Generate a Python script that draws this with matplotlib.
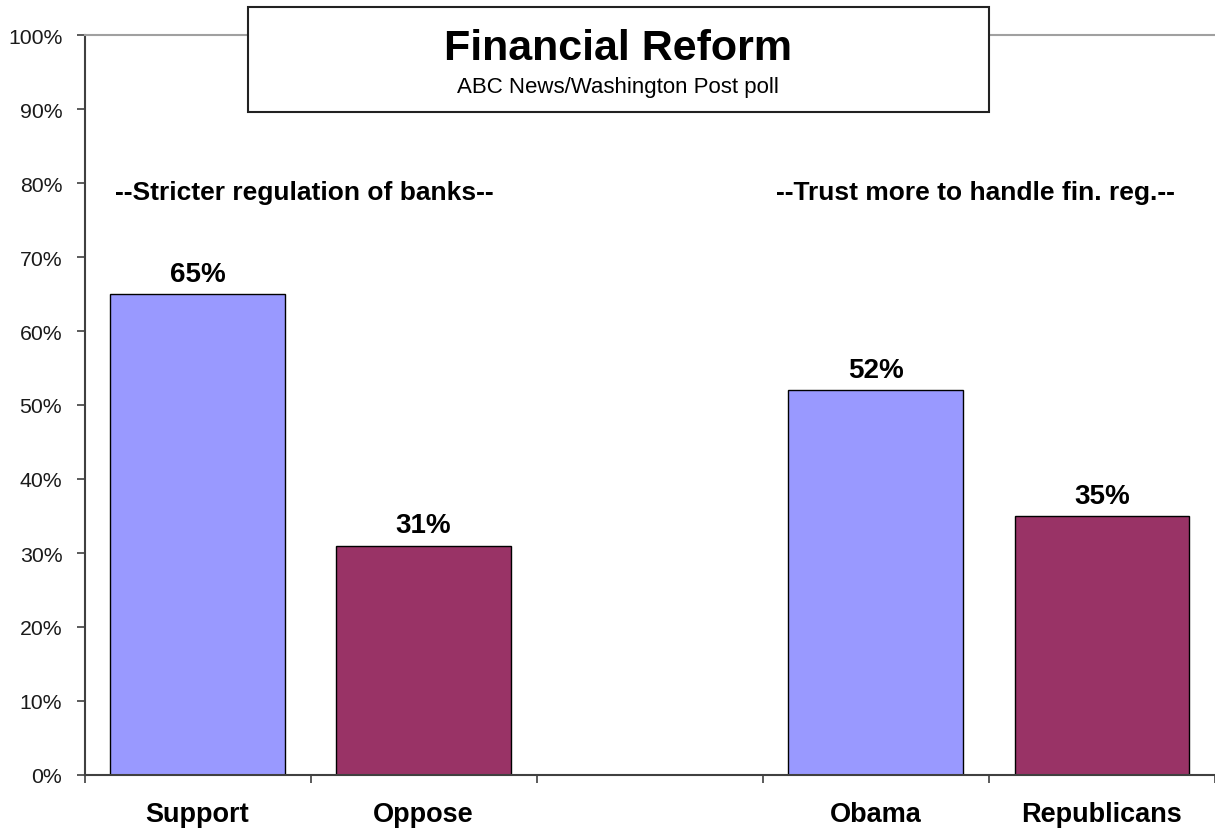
import numpy as np
import matplotlib.pyplot as plt
from matplotlib.patches import Rectangle

plt.rcParams['font.family'] = ['Liberation Sans', 'DejaVu Sans']

# data
categories = ['Support', 'Oppose', '', 'Obama', 'Republicans']
values = [65, 31, None, 52, 35]
bar_colors = ['#9999ff', '#993366', None, '#9999ff', '#993366']
group_titles = ['--Stricter regulation of banks--', '--Trust more to handle fin. reg.--']
group_pos = [0.47, 3.44]
yticks = np.arange(0, 101, 10)

fig = plt.figure(figsize=(12.15, 8.29), dpi=100)
ax = fig.add_axes([84.5 / 1215, 1 - 776 / 829, 1 - 84.5 / 1215, 740 / 829])

for i, (v, c) in enumerate(zip(values, bar_colors)):
    if v is None:
        continue
    ax.bar(i, v, width=0.773, color=c, edgecolor='black', linewidth=1, zorder=2)
    ax.text(i, v + 1.0, '%d%%' % v, ha='center', va='bottom',
            fontsize=20, fontweight='bold')

for t, xp in zip(group_titles, group_pos):
    ax.text(xp, 78.8, t, ha='center', va='center', fontsize=19, fontweight='bold')

ax.set_xlim(-0.5, -0.5 + (1215 - 84.5) / 227.4)
ax.set_ylim(0, 100)

ax.set_yticks(yticks)
ax.set_yticklabels(['%d%%' % y for y in yticks], fontsize=15.3, color='#1a1a1a')
ax.tick_params(axis='y', direction='out', length=6, width=1.2, color='#404040', pad=10)

ax.set_xticks(np.arange(-0.5, 5, 1.0))
ax.set_xticklabels([])
ax.set_xticks(np.arange(len(categories)), minor=True)
ax.set_xticklabels(categories, minor=True, fontsize=19.5, fontweight='bold')
ax.tick_params(axis='x', which='major', direction='out', length=6, width=1.2, color='#404040')
ax.tick_params(axis='x', which='minor', length=0, pad=19)

ax.spines['right'].set_visible(False)
ax.spines['top'].set_color('#a0a0a0')
ax.spines['top'].set_linewidth(1.5)
ax.spines['left'].set_color('#404040')
ax.spines['left'].set_linewidth(1.5)
ax.spines['bottom'].set_color('#404040')
ax.spines['bottom'].set_linewidth(1.5)

# title box
box = Rectangle((248 / 1215, 1 - 113 / 829), 741 / 1215, 105 / 829,
                transform=fig.transFigure, facecolor='white', edgecolor='#222222',
                linewidth=1.5, zorder=5)
fig.add_artist(box)
fig.text(618 / 1215, 1 - 49 / 829, 'Financial Reform', ha='center', va='center',
         fontsize=31, fontweight='bold', zorder=6)
fig.text(618 / 1215, 1 - 87 / 829, 'ABC News/Washington Post poll', ha='center',
         va='center', fontsize=16, zorder=6)

fig.savefig('out.png', dpi=100)
